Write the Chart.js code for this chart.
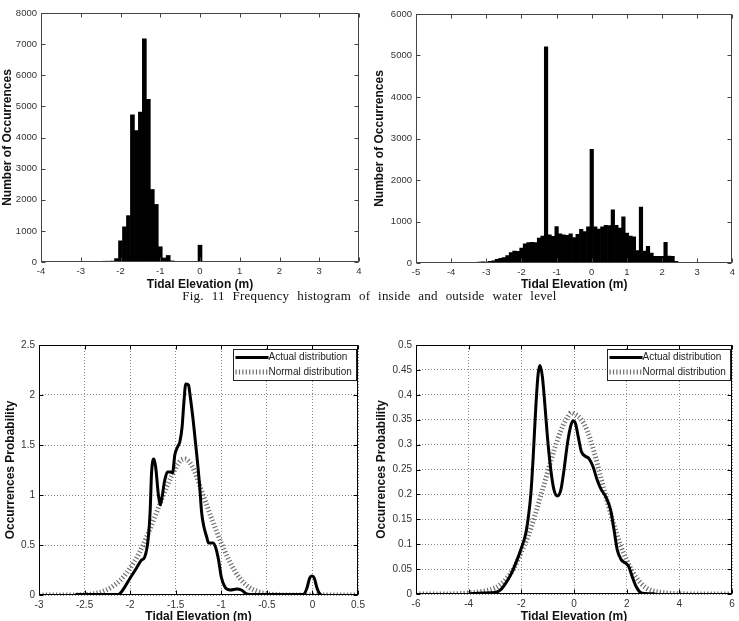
<!DOCTYPE html>
<html>
<head>
<meta charset="utf-8">
<script src="https://cdn.jsdelivr.net/npm/chart.js@4.4.1/dist/chart.umd.min.js"></script>
<style>
  html, body { margin: 0; padding: 0; background: #fff; }
  #page { position: relative; width: 739px; height: 621px; overflow: hidden; background: #fff; }
  .panel { position: absolute; }
  #caption {
    position: absolute; left: 0; width: 739px; top: 289px; text-align: center;
    font-family: "Liberation Serif", "DejaVu Serif", serif; font-size: 13px; line-height: 14px;
    word-spacing: 4.5px; letter-spacing: 0.2px; color: #111;
  }
</style>
</head>
<body>
<div id="page">
  <div class="panel" style="left:0;top:0;width:370px;height:292px"><canvas id="histIn"></canvas></div>
  <div class="panel" style="left:369px;top:0;width:370px;height:292px"><canvas id="histOut"></canvas></div>
  <div id="caption">Fig. 11 Frequency histogram of inside and outside water level</div>
  <div class="panel" style="left:0;top:330px;width:370px;height:294px"><canvas id="pdfIn"></canvas></div>
  <div class="panel" style="left:369px;top:330px;width:370px;height:294px"><canvas id="pdfOut"></canvas></div>
</div>
<script>
// inside water level histogram (bin centres, 0.1 m bins)
const inBins = [-2.5, -2.4, -2.3, -2.2, -2.1, -2.0, -1.9, -1.8, -1.7, -1.6, -1.5, -1.4, -1.3, -1.2, -1.1, -1.0, -0.9, -0.8, -0.7, 0.0];
const inCounts = [20, 25, 25, 30, 110, 680, 1130, 1490, 4730, 4220, 4820, 7170, 5230, 2330, 1850, 490, 130, 210, 35, 540];

// outside water level histogram
const outBins = [-3.5, -3.4, -3.3, -3.2, -3.1, -3.0, -2.9, -2.8, -2.7, -2.6, -2.5, -2.4, -2.3, -2.2, -2.1, -2.0,
  -1.9, -1.8, -1.7, -1.6, -1.5, -1.4, -1.3, -1.2, -1.1, -1.0, -0.9, -0.8, -0.7, -0.6, -0.5, -0.4, -0.3, -0.2, -0.1,
  0.0, 0.1, 0.2, 0.3, 0.4, 0.5, 0.6, 0.7, 0.8, 0.9, 1.0, 1.1, 1.2, 1.3, 1.4, 1.5, 1.6, 1.7, 1.8, 1.9, 2.0,
  2.1, 2.2, 2.3, 2.4, 2.5];
const outCounts = [10, 15, 10, 20, 30, 25, 40, 55, 90, 110, 130, 180, 250, 290, 280, 360,
  460, 490, 500, 490, 600, 650, 5210, 680, 640, 880, 700, 680, 665, 700, 610, 690, 810, 760, 870,
  2740, 870, 820, 870, 910, 900, 1280, 910, 840, 1110, 720, 650, 630, 300, 1350, 290, 400, 240, 160, 160, 160,
  500, 165, 160, 40, 10];

// probability curves, inside
const pdfInX = [-2.6, -2.4, -2.2, -2.13, -2.08, -2.0, -1.93, -1.875, -1.84, -1.8, -1.78, -1.765, -1.74, -1.72,
  -1.69, -1.67, -1.65, -1.62, -1.59, -1.556, -1.535, -1.51, -1.48, -1.455, -1.43, -1.41, -1.39, -1.36, -1.34,
  -1.31, -1.27, -1.24, -1.215, -1.19, -1.16, -1.14, -1.09, -1.06, -1.03, -1.0, -0.96, -0.9, -0.83, -0.78,
  -0.72, -0.65, -0.4, -0.1, -0.06, -0.03, -0.006, 0.02, 0.05, 0.08, 0.1];
const pdfInActual = [0.005, 0.005, 0.005, 0.006, 0.05, 0.17, 0.27, 0.35, 0.38, 0.58, 0.85, 1.22, 1.36, 1.28,
  1.0, 0.9, 0.98, 1.15, 1.23, 1.23, 1.22, 1.4, 1.48, 1.53, 1.68, 1.93, 2.11, 2.1, 1.98,
  1.76, 1.41, 1.12, 0.82, 0.68, 0.58, 0.52, 0.52, 0.47, 0.35, 0.18, 0.08, 0.05, 0.06, 0.05,
  0.01, 0.004, 0.004, 0.005, 0.07, 0.17, 0.19, 0.17, 0.07, 0.01, 0.0];
const normInX = [-3.0, -2.75, -2.5, -2.4, -2.3, -2.2, -2.1, -2.0, -1.9, -1.8, -1.7, -1.6, -1.5, -1.45, -1.4, -1.35,
  -1.3, -1.2, -1.1, -1.0, -0.9, -0.8, -0.7, -0.6, -0.5, -0.4, -0.3, 0.0, 0.5];
const normIn = [0.0, 0.0, 0.004, 0.012, 0.035, 0.08, 0.155, 0.27, 0.42, 0.62, 0.85, 1.08, 1.27, 1.34, 1.36, 1.33,
  1.25, 1.0, 0.75, 0.52, 0.32, 0.17, 0.08, 0.035, 0.012, 0.004, 0.0, 0.0, 0.0];

// probability curves, outside
const pdfOutX = [-4.0, -3.47, -3.0, -2.78, -2.59, -2.4, -2.21, -2.02, -1.83, -1.73, -1.64, -1.55, -1.45, -1.36,
  -1.29, -1.2, -1.11, -1.01, -0.88, -0.76, -0.63, -0.5, -0.38, -0.25, -0.13, -0.04, 0.06, 0.16, 0.28, 0.42,
  0.57, 0.72, 0.88, 1.04, 1.2, 1.39, 1.52, 1.64, 1.79, 1.96, 2.08, 2.21, 2.36, 2.53, 2.72, 3.09];
const pdfOutActual = [0.0, 0.002, 0.003, 0.009, 0.022, 0.039, 0.062, 0.089, 0.122, 0.156, 0.2, 0.275, 0.376, 0.443,
  0.459, 0.436, 0.383, 0.316, 0.249, 0.209, 0.197, 0.209, 0.249, 0.302, 0.336, 0.348, 0.342, 0.316, 0.286, 0.277,
  0.272, 0.256, 0.229, 0.209, 0.196, 0.169, 0.129, 0.089, 0.069, 0.062, 0.055, 0.035, 0.015, 0.003, 0.001, 0.0];
const normOutX = [-6, -5, -4.5, -4, -3.5, -3, -2.75, -2.5, -2.25, -2, -1.75, -1.5, -1.25, -1, -0.75, -0.5, -0.25, -0.1,
  0, 0.25, 0.5, 0.75, 1, 1.25, 1.5, 1.75, 2, 2.25, 2.5, 2.75, 3, 3.5, 4, 5, 6];
const normOut = [0, 0, 0.0005, 0.002, 0.005, 0.012, 0.021, 0.035, 0.055, 0.085, 0.115, 0.155, 0.2, 0.245, 0.29, 0.328, 0.355, 0.364,
  0.362, 0.352, 0.328, 0.288, 0.238, 0.188, 0.142, 0.1, 0.068, 0.042, 0.024, 0.012, 0.006, 0.002, 0.0005, 0, 0];

// tick labels
const histInXTicks = [-4, -3, -2, -1, 0, 1, 2, 3, 4];
const histInYTicks = [0, 1000, 2000, 3000, 4000, 5000, 6000, 7000, 8000];
const histOutXTicks = [-5, -4, -3, -2, -1, 0, 1, 2, 3, 4];
const histOutYTicks = [0, 1000, 2000, 3000, 4000, 5000, 6000];
const pdfInXTicks = [-3, -2.5, -2, -1.5, -1, -0.5, 0, 0.5];
const pdfInYTicks = [0, 0.5, 1, 1.5, 2, 2.5];
const pdfOutXTicks = [-6, -4, -2, 0, 2, 4, 6];
const pdfOutYTicks = [0, 0.05, 0.1, 0.15, 0.2, 0.25, 0.3, 0.35, 0.4, 0.45, 0.5];

const xTitle = 'Tidal Elevation (m)';
const histTitle = 'Number of Occurrences';
const pdfTitle = 'Occurrences Probability';
const legendLabels = ['Actual distribution', 'Normal distribution'];

Chart.defaults.font.family = '"Liberation Sans", Arial, sans-serif';

// matlab style box with inward ticks on all four sides
const frame = {
  id: 'frame',
  afterDatasetsDraw(chart, args, o) {
    const { ctx, chartArea: a } = chart;
    const xs = chart.scales.x, ys = chart.scales.y;
    const L = Math.round(a.left) + 0.5, R = Math.round(a.right) - 0.5;
    const T = Math.round(a.top) + 0.5, B = Math.round(a.bottom) - 0.5;
    ctx.save();
    ctx.strokeStyle = o.color;
    ctx.lineWidth = 1;
    ctx.beginPath();
    xs.ticks.forEach(t => {
      const p = Math.round(xs.getPixelForValue(t.value)) + 0.5;
      ctx.moveTo(p, B); ctx.lineTo(p, B - o.len);
      ctx.moveTo(p, T); ctx.lineTo(p, T + o.len);
    });
    ys.ticks.forEach(t => {
      const p = Math.round(ys.getPixelForValue(t.value)) + 0.5;
      ctx.moveTo(L, p); ctx.lineTo(L + o.len, p);
      ctx.moveTo(R, p); ctx.lineTo(R - o.len, p);
    });
    ctx.stroke();
    ctx.strokeRect(L, T, R - L, B - T);
    ctx.restore();
  }
};

// boxed legend in the top right corner of the plot area
const boxLegend = {
  id: 'boxLegend',
  afterDraw(chart, args, o) {
    if (!o.display) return;
    const { ctx, chartArea: a } = chart;
    const w = 123, h = 31;
    const x0 = Math.round(a.right - w - 2) + 0.5, y0 = Math.round(a.top + 4) + 0.5;
    ctx.save();
    ctx.fillStyle = '#fff';
    ctx.fillRect(x0, y0, w, h);
    ctx.strokeStyle = '#222';
    ctx.lineWidth = 1;
    ctx.strokeRect(x0, y0, w, h);
    ctx.font = '10px "Liberation Sans", Arial, sans-serif';
    ctx.textBaseline = 'middle';
    chart.data.datasets.forEach((ds, i) => {
      const y = y0 + 8 + i * 14.6;
      ctx.save();
      ctx.strokeStyle = ds.borderColor;
      ctx.lineWidth = ds.borderWidth;
      ctx.setLineDash(ds.borderDash || []);
      ctx.beginPath();
      ctx.moveTo(x0 + 2, y);
      ctx.lineTo(x0 + 35, y);
      ctx.stroke();
      ctx.restore();
      ctx.fillStyle = '#222';
      ctx.fillText(ds.label, x0 + 35, y);
    });
    ctx.restore();
  }
};

function axis(ticks, title, o) {
  return {
    type: 'linear',
    min: ticks[0],
    max: ticks[ticks.length - 1],
    offset: false,
    afterBuildTicks: s => { s.ticks = ticks.map(v => ({ value: v })); },
    afterFit: s => { if (s.isHorizontal()) s.height = o.size; else s.width = o.size; },
    grid: { display: !!o.grid, drawTicks: false, color: '#8a8a8a', lineWidth: 1 },
    border: { display: false, dash: [1, 2] },
    ticks: {
      autoSkip: false, maxRotation: 0, padding: 4, color: '#333',
      font: { size: o.tickSize }, callback: v => String(v)
    },
    title: {
      display: true, text: title, color: '#111',
      padding: { top: o.tpad || 0, bottom: o.tpad || 0 },
      font: { size: 12, weight: 'bold', lineHeight: 1.2 }
    }
  };
}

function baseOptions(d, scales, legend) {
  return {
    responsive: true,
    maintainAspectRatio: false,
    animation: false,
    layout: { padding: { top: d.top, right: d.right, left: 0, bottom: 0 } },
    plugins: {
      legend: { display: false },
      tooltip: { enabled: false },
      frame: { color: d.frame, len: 4 },
      boxLegend: { display: legend }
    },
    scales
  };
}

function histChart(id, bins, counts, xt, yt, d) {
  new Chart(document.getElementById(id), {
    type: 'bar',
    data: {
      datasets: [{
        data: bins.map((b, i) => ({ x: b, y: counts[i] })),
        backgroundColor: '#000',
        borderWidth: 0,
        barPercentage: 1,
        categoryPercentage: 1
      }]
    },
    options: baseOptions(d, {
      x: axis(xt, xTitle, { size: d.xh, tickSize: 9.5 }),
      y: axis(yt, histTitle, { size: d.yw, tickSize: 9.5, tpad: d.ytp })
    }, false),
    plugins: [frame, boxLegend]
  });
}

function pdfChart(id, ax, ay, nx, ny, xt, yt, d) {
  new Chart(document.getElementById(id), {
    type: 'line',
    data: {
      datasets: [
        {
          label: legendLabels[0],
          data: ax.map((x, i) => ({ x, y: ay[i] })),
          borderColor: '#000',
          borderWidth: 3,
          pointRadius: 0,
          cubicInterpolationMode: 'monotone',
          order: 0
        },
        {
          label: legendLabels[1],
          data: nx.map((x, i) => ({ x, y: ny[i] })),
          borderColor: '#6e6e6e',
          borderWidth: 5,
          borderDash: [1.2, 2.2],
          pointRadius: 0,
          cubicInterpolationMode: 'monotone',
          order: 1
        }
      ]
    },
    options: baseOptions(d, {
      x: axis(xt, xTitle, { size: d.xh, tickSize: 10, grid: true }),
      y: axis(yt, pdfTitle, { size: d.yw, tickSize: 10, tpad: d.ytp, grid: true })
    }, true),
    plugins: [frame, boxLegend]
  });
}

histChart('histIn', inBins, inCounts, histInXTicks, histInYTicks,
  { top: 13, right: 11, yw: 41, xh: 30, ytp: 0, frame: '#444' });
histChart('histOut', outBins, outCounts, histOutXTicks, histOutYTicks,
  { top: 14, right: 6, yw: 47, xh: 29, ytp: 3, frame: '#444' });
pdfChart('pdfIn', pdfInX, pdfInActual, normInX, normIn, pdfInXTicks, pdfInYTicks,
  { top: 15, right: 12, yw: 39, xh: 29, ytp: 3, frame: '#000' });
pdfChart('pdfOut', pdfOutX, pdfOutActual, normOutX, normOut, pdfOutXTicks, pdfOutYTicks,
  { top: 15, right: 7, yw: 47, xh: 30, ytp: 5.5, frame: '#000' });
</script>
</body>
</html>
